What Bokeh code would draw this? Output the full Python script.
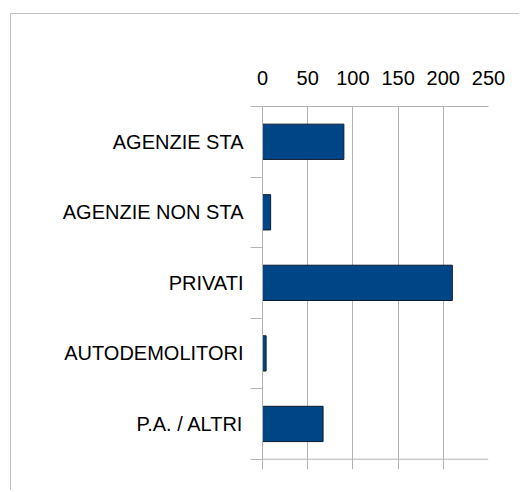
from bokeh.plotting import figure
from bokeh.models import (ColumnDataSource, Range1d, FixedTicker, Span)
from bokeh.embed import file_html
from bokeh.resources import INLINE

# ---- data ----
categories = ["AGENZIE STA", "AGENZIE NON STA", "PRIVATI", "AUTODEMOLITORI", "P.A. / ALTRI"]
values = [90, 9, 210, 4, 67]
x_ticks = [0, 50, 100, 150, 200, 250]
x_max = 250

GRID = "#b3b3b3"
FONT = "Liberation Sans"
FS = "20px"
Y_PAD = 0.146   # extra room below the axis so grid lines poke out like tick marks

n = len(categories)
ypos = [n - i - 0.5 for i in range(n)]          # band centres, top to bottom
source = ColumnDataSource(dict(cat=categories, val=values, y=ypos))

p = figure(
    width=509, height=477,
    y_range=Range1d(-Y_PAD, n),
    x_range=Range1d(0, x_max),
    x_axis_location="above",
    output_backend="svg", toolbar_location=None,
    min_border_left=251, min_border_right=32,
    min_border_top=92, min_border_bottom=22,
)
p.styles = {"margin-left": "10px", "margin-top": "13px",
            "border-left": "1px solid #c3c3c3", "border-top": "1px solid #c3c3c3"}

p.hbar(y="y", right="val", left=0, height=0.5, source=source,
       fill_color="#004586", line_color="#0b1a2e", line_width=1)

p.outline_line_color = None
p.background_fill_color = "white"
p.border_fill_color = "white"

# grid
p.xgrid.ticker = FixedTicker(ticks=x_ticks)
p.xgrid.grid_line_color = GRID
p.ygrid.grid_line_color = None

# baseline of the category axis (bottom boundary)
p.add_layout(Span(location=0, dimension="width", line_color=GRID, line_width=1))

# top axis (labels)
top = p.xaxis[0]
top.ticker = FixedTicker(ticks=x_ticks)
top.major_tick_out = 0
top.major_tick_in = 0
top.minor_tick_out = 0
top.minor_tick_in = 0
top.axis_line_color = GRID
top.major_label_standoff = 22
top.major_label_text_font = FONT
top.major_label_text_font_size = FS
top.major_label_text_color = "black"

# category axis: labels at band centres, boundary ticks as minor ticks
yax = p.yaxis[0]
yax.ticker = FixedTicker(ticks=ypos, minor_ticks=list(range(n + 1)))
yax.major_label_overrides = {y: c for y, c in zip(ypos, categories)}
yax.major_tick_out = 0
yax.major_tick_in = 0
yax.minor_tick_out = 12
yax.minor_tick_in = 0
yax.minor_tick_line_color = GRID
yax.axis_line_color = GRID
yax.major_label_standoff = 7
yax.major_label_text_font = FONT
yax.major_label_text_font_size = FS
yax.major_label_text_color = "black"

open("out.html", "w").write(file_html(p, INLINE))
